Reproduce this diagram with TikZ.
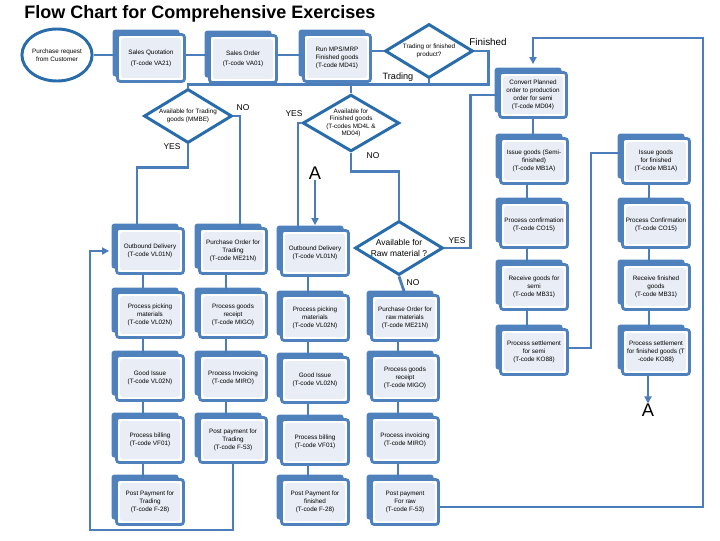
\documentclass[tikz,border=0pt]{standalone}
\usepackage{fontspec}
\setmainfont{Liberation Sans}
\usetikzlibrary{shapes.geometric,shadows,calc,arrows.meta}

\definecolor{linkblue}{RGB}{74,125,185}
\definecolor{boxblue}{RGB}{79,129,189}
\definecolor{boxin}{RGB}{233,238,246}
\definecolor{dblue}{RGB}{40,108,172}

\tikzset{
  link/.style={draw=linkblue, line width=2pt},
  arr/.style={link, -{Triangle[width=5pt,length=5pt]}},
  stepbox/.style={rectangle, rounded corners=2pt, draw=boxblue, line width=2pt, fill=white,
    minimum width=1.675cm, minimum height=1.125cm, inner sep=1pt, align=center,
    font=\fontsize{4.5}{5.8}\selectfont,
    general shadow={fill=boxblue, shadow xshift=-3.5pt, shadow yshift=3.5pt},
    path picture={\fill[boxin] ([shift={(2.5pt,2.5pt)}]path picture bounding box.south west)
      rectangle ([shift={(-2.5pt,-2.5pt)}]path picture bounding box.north east);}},
  tallbox/.style={stepbox, minimum height=1.175cm},
  decision/.style={diamond, aspect=1.7, draw=dblue, line width=2.1pt, fill=white, minimum width=2.2cm,
    minimum height=1.35cm, inner sep=0pt, align=center, font=\fontsize{4.5}{5.6}\selectfont},
  lab/.style={font=\fontsize{6}{7}\selectfont, inner sep=0pt},
  bigA/.style={font=\fontsize{13}{15}\selectfont, inner sep=0pt},
}

\begin{document}
\begin{tikzpicture}[x=0.025cm, y=-0.025cm]
  \useasboundingbox (0,0) rectangle (720,540);
  \node[anchor=west, inner sep=0pt, font=\fontsize{12.8}{15}\selectfont\bfseries] (title) at (24,14)
    {Flow Chart for Comprehensive Exercises};

  % top row
  \node[ellipse, draw=dblue, line width=2.1pt, minimum width=1.63cm, minimum height=1.3cm,
    inner sep=0pt, align=center, font=\fontsize{4.5}{5.6}\selectfont] (req) at (57,55)
    {Purchase request\\from Customer};
  \node[tallbox] (sq) at (151,58) {Sales Quotation\\[2pt](T-code VA21)};
  \node[tallbox] (so) at (243,59) {Sales Order\\[1pt](T-code VA01)};
  \node[tallbox] (mrp) at (337,58) {Run MPS/MRP\\Finished goods\\(T-code MD41)};
  \node[decision] (tf) at (429,51) {Trading or finished\\product?};

  % decisions
  \node[decision] (d1) at (188,116) {Available for Trading\\goods (MMBE)};
  \node[decision, font=\fontsize{4.5}{5.2}\selectfont] (d2) at (351,123)
    {Available for\\Finished goods\\(T-codes MD4L \&\\MD04)};
  \node[decision, font=\fontsize{6}{7.2}\selectfont] (raw) at (399,248) {Available for\\Raw material ?};

  % trading, sales
  \node[stepbox] (ob1) at (150,251) {Outbound Delivery\\(T-code VL01N)};
  \node[stepbox] (pk1) at (150,315) {Process picking\\materials\\(T-code VL02N)};
  \node[stepbox] (gi1) at (150,378) {Good Issue\\(T-code VL02N)};
  \node[stepbox] (bl1) at (150,440) {Process billing\\(T-code VF01)};
  \node[stepbox] (pp1) at (150,502) {Post Payment for\\Trading\\(T-code F-28)};

  % trading, purchase
  \node[stepbox] (ptr) at (233,251) {Purchase Order for\\Trading\\(T-code ME21N)};
  \node[stepbox] (gr2) at (233,315) {Process goods\\receipt\\(T-code MIGO)};
  \node[stepbox] (iv2) at (233,378) {Process Invoicing\\(T-code MIRO)};
  \node[stepbox] (pp2) at (233,440) {Post payment for\\Trading\\(T-code F-53)};

  % finished goods, sales
  \node[stepbox] (ob3) at (315,253) {Outbound Delivery\\(T-code VL01N)};
  \node[stepbox] (pk3) at (315,318) {Process picking\\materials\\(T-code VL02N)};
  \node[stepbox] (gi3) at (315,380) {Good Issue\\(T-code VL02N)};
  \node[stepbox] (bl3) at (315,442) {Process billing\\(T-code VF01)};
  \node[stepbox] (pp3) at (315,502) {Post Payment for\\finished\\(T-code F-28)};

  % raw materials
  \node[stepbox] (prm) at (405,318) {Purchase Order for\\raw materials\\(T-code ME21N)};
  \node[stepbox] (gr4) at (405,378) {Process goods\\receipt\\(T-code MIGO)};
  \node[stepbox] (iv4) at (405,440) {Process invoicing\\(T-code MIRO)};
  \node[stepbox] (pp4) at (405,502) {Post payment\\For raw\\(T-code F-53)};

  % production
  \node[stepbox] (cv) at (533,95) {Convert Planned\\order to production\\order for semi\\(T-code MD04)};
  \node[stepbox] (is1) at (534,161) {Issue goods (Semi-\\finished)\\(T-code MB1A)};
  \node[stepbox] (pc1) at (534,225) {Process confirmation\\(T-code CO15)};
  \node[stepbox] (rg1) at (534,287) {Receive goods for\\semi\\(T-code MB31)};
  \node[stepbox] (ps1) at (534,352) {Process settlement\\for semi\\(T-code KO88)};
  \node[stepbox] (is2) at (656,161) {Issue goods\\for finished\\(T-code MB1A)};
  \node[stepbox] (pc2) at (656,225) {Process Confirmation\\(T-code CO15)};
  \node[stepbox] (rg2) at (656,287) {Receive finished\\goods\\(T-code MB31)};
  \node[stepbox] (ps2) at (656,352) {Process settlement\\for finished goods (T\\-code KO88)};

  \node[bigA] (a1) at (315,173) {A};
  \node[bigA] (a2) at (648,410) {A};

  % labels
  \node[font=\fontsize{7}{8}\selectfont, inner sep=0pt] at (488,42) {Finished};
  \node[font=\fontsize{6.5}{8}\selectfont, inner sep=0pt] at (398,77) {Trading};
  \node[lab] at (243,108) {NO};
  \node[lab] at (172,147) {YES};
  \node[lab] at (294,114) {YES};
  \node[lab] at (373,156) {NO};
  \node[lab] at (457,241) {YES};
  \node[lab] at (413,283) {NO};

  % connectors
  \draw[link] (req.east) -- (req.east -| sq.west);
  \draw[link] (sq.east |- req.east) -- (req.east -| so.west);
  \draw[link] (so.east |- req.east) -- (req.east -| mrp.west);
  \draw[link] (mrp.east |- tf.west) -- (tf.west);
  \draw[link] (tf.east) -- ++(14,0) |- ($(d2.north)+(0,-9)$) -- (d2.north);
  \draw[link] (tf.south) -- ++(0,5) -| (d1.north);
  \draw[link] (d1.east) -| ($(ptr.north)+(7,0)$);
  \draw[link] (d1.south) -- ++(0,23) -| ($(ob1.north)+(-13,0)$);
  \draw[link] (d2.west) -| ($(ob3.north)+(-17,0)$);
  \draw[link] (d2.south) -- ++(0,19) -| (raw.north);
  \draw[link] (raw.east) -- ++(26,0) |- (cv.west);
  \draw[link] (raw.south) -- (prm.north);
  \draw[arr] (a1.south) -- ($(ob3.north)+(0,-4)$);
  \draw[arr] ($(ps2.south)+(-8,0)$) -- (a2.north);
  \foreach \u/\v in {ob1/pk1, pk1/gi1, gi1/bl1, bl1/pp1, ptr/gr2, gr2/iv2, iv2/pp2,
      ob3/pk3, pk3/gi3, gi3/bl3, bl3/pp3, prm/gr4, gr4/iv4, iv4/pp4,
      is1/pc1, pc1/rg1, rg1/ps1, is2/pc2, pc2/rg2, rg2/ps2}
    \draw[link] ($(\u.south)+(-7,0)$) -- ($(\v.north)+(-7,0)$);
  \draw[link] (cv.south) -- ($(is1.north)+(-1,0)$);
  \draw[link] ($(ps1.east)+(0,-4)$) -- ++(22,0) |- ($(is2.west)+(0,-8)$);
  \draw[arr] (pp2.south) -- ++(0,66) -| ($(ob1.west)+(-25,0)$) -- ($(ob1.west)+(-6,0)$);
  \draw[arr] ($(pp4.east)+(0,5)$) -- ++(263,0) |- ($(cv.north)+(0,-33)$) -- ($(cv.north)+(0,-7)$);
\end{tikzpicture}
\end{document}
